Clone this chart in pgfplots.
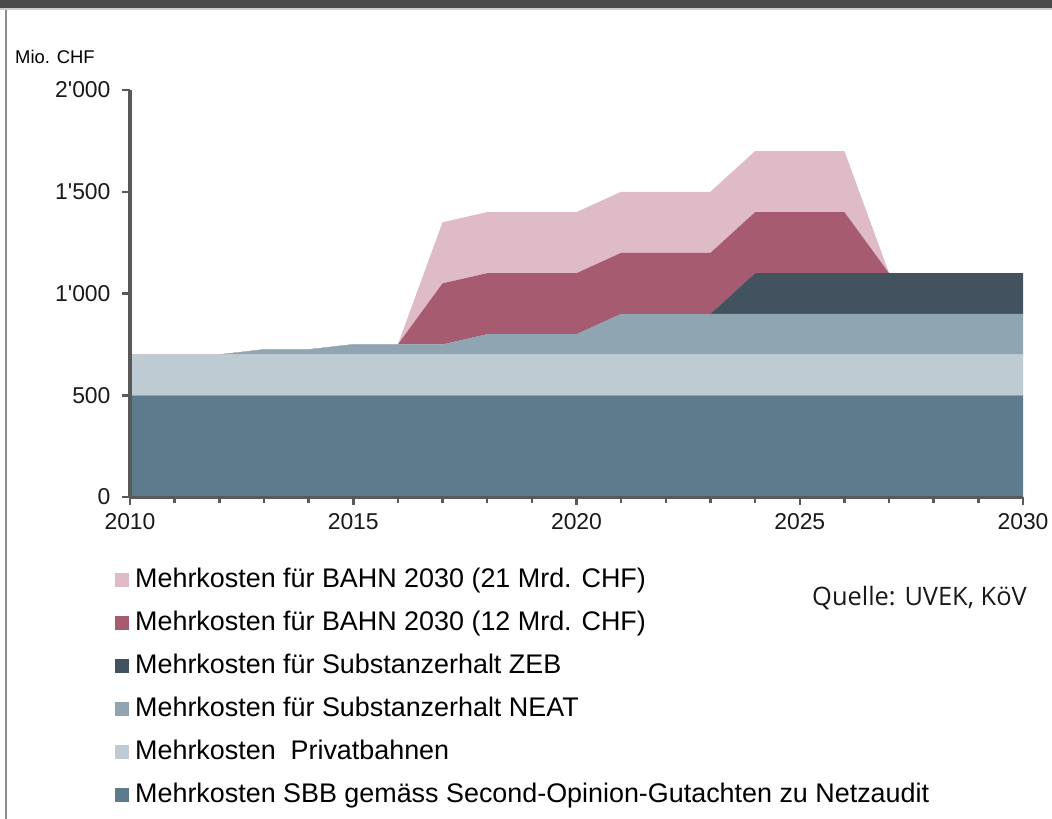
\documentclass[border=0pt]{standalone}
\usepackage{pgfplots}
\pgfplotsset{compat=1.18}
\usepackage{fontspec}
\newfontfamily\arial{Liberation Sans}
\newfontfamily\osans{Open Sans}
\definecolor{sbb}{HTML}{5E7B8E}
\definecolor{priv}{HTML}{BFCBD3}
\definecolor{neat}{HTML}{8FA5B2}
\definecolor{zeb}{HTML}{42535F}
\definecolor{bahnA}{HTML}{A65B70}
\definecolor{bahnB}{HTML}{DEBBC6}
\definecolor{axisgray}{HTML}{595959}
\definecolor{band}{HTML}{4A4A4A}
\begin{document}
\begin{tikzpicture}
\useasboundingbox (0bp,0bp) rectangle (1052bp,-819bp);
\fill[white] (0bp,0bp) rectangle (1052bp,-819bp);
\fill[band] (0bp,0bp) rectangle (1052bp,-8bp);
\fill[black!20] (0bp,-8bp) rectangle (1052bp,-10bp);
\fill[black!45] (5bp,-10bp) rectangle (7bp,-819bp);
\node[anchor=base west, inner sep=0, font=\arial\fontsize{18.5}{22}\selectfont] at (15bp,-63bp) {Mio. CHF};
\node[anchor=base west, inner sep=0, font=\osans\fontsize{25.5}{28}\selectfont, text=black!90] at (812bp,-605bp) {Quelle: UVEK, KöV};
\begin{axis}[at={(130bp,-497bp)}, anchor=south west, scale only axis,
  width=893bp, height=407bp,
  xmin=2010, xmax=2030, ymin=0, ymax=2000,
  stack plots=y, axis on top,
  axis x line*=bottom, axis y line*=left,
  x axis line style={color=axisgray, line width=3bp},
  y axis line style={color=axisgray, line width=4bp},
  xtick={2010,2015,2020,2025,2030},
  xticklabels={2010,2015,2020,2025,2030},
  minor xtick={2011,2012,2013,2014,2016,2017,2018,2019,2021,2022,2023,2024,2026,2027,2028,2029},
  ytick={0,500,1000,1500,2000},
  yticklabels={0,500,1'000,1'500,2'000},
  tick align=outside, major tick length=8bp, minor tick length=6bp,
  tick style={color=axisgray, line width=2.5bp},
  ticklabel style={font=\arial\fontsize{23}{26}\selectfont, text=black!90},
  yticklabel style={xshift=-8bp},
  xticklabel style={yshift=-5bp},
  reverse legend,
  legend style={at={(axis description cs:-0.0168,-0.172)}, anchor=north west,
    draw=none, fill=none, inner sep=0pt, row sep=18bp,
    font=\arial\fontsize{27}{30}\selectfont,
    nodes={inner sep=0pt, text height=20bp, text depth=5bp}},
  legend cell align=left,
  legend image code/.code={\fill[#1] (0bp,-7bp) rectangle (14bp,7bp); \path (20bp,0bp);},
]
\addplot[fill=sbb, draw=none] coordinates {(2010,500) (2011,500) (2012,500) (2013,500) (2014,500) (2015,500) (2016,500) (2017,500) (2018,500) (2019,500) (2020,500) (2021,500) (2022,500) (2023,500) (2024,500) (2025,500) (2026,500) (2027,500) (2028,500) (2029,500) (2030,500)} \closedcycle;
\addlegendentry{Mehrkosten SBB gemäss Second-Opinion-Gutachten zu Netzaudit}
\addplot[fill=priv, draw=none] coordinates {(2010,200) (2011,200) (2012,200) (2013,200) (2014,200) (2015,200) (2016,200) (2017,200) (2018,200) (2019,200) (2020,200) (2021,200) (2022,200) (2023,200) (2024,200) (2025,200) (2026,200) (2027,200) (2028,200) (2029,200) (2030,200)} \closedcycle;
\addlegendentry{Mehrkosten\ \ Privatbahnen}
\addplot[fill=neat, draw=none] coordinates {(2010,0) (2011,0) (2012,0) (2013,25) (2014,25) (2015,50) (2016,50) (2017,50) (2018,100) (2019,100) (2020,100) (2021,200) (2022,200) (2023,200) (2024,200) (2025,200) (2026,200) (2027,200) (2028,200) (2029,200) (2030,200)} \closedcycle;
\addlegendentry{Mehrkosten für Substanzerhalt NEAT}
\addplot[fill=zeb, draw=none] coordinates {(2010,0) (2011,0) (2012,0) (2013,0) (2014,0) (2015,0) (2016,0) (2017,0) (2018,0) (2019,0) (2020,0) (2021,0) (2022,0) (2023,0) (2024,200) (2025,200) (2026,200) (2027,200) (2028,200) (2029,200) (2030,200)} \closedcycle;
\addlegendentry{Mehrkosten für Substanzerhalt ZEB}
\addplot[fill=bahnA, draw=none] coordinates {(2010,0) (2011,0) (2012,0) (2013,0) (2014,0) (2015,0) (2016,0) (2017,300) (2018,300) (2019,300) (2020,300) (2021,300) (2022,300) (2023,300) (2024,300) (2025,300) (2026,300) (2027,0) (2028,0) (2029,0) (2030,0)} \closedcycle;
\addlegendentry{Mehrkosten für BAHN 2030 (12 Mrd. CHF)}
\addplot[fill=bahnB, draw=none] coordinates {(2010,0) (2011,0) (2012,0) (2013,0) (2014,0) (2015,0) (2016,0) (2017,300) (2018,300) (2019,300) (2020,300) (2021,300) (2022,300) (2023,300) (2024,300) (2025,300) (2026,300) (2027,0) (2028,0) (2029,0) (2030,0)} \closedcycle;
\addlegendentry{Mehrkosten für BAHN 2030 (21 Mrd. CHF)}
\end{axis}
\end{tikzpicture}
\end{document}
